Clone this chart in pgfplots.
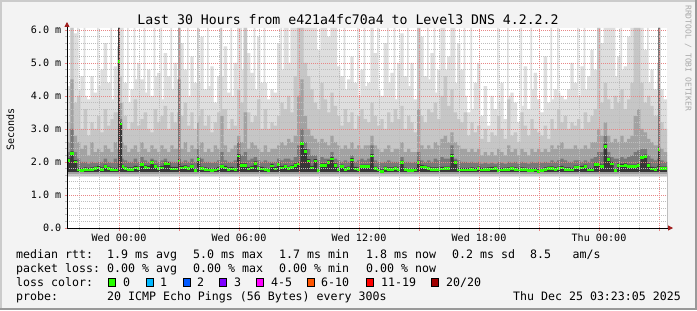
\documentclass[border=0pt]{standalone}
\usepackage{pgfplots}
\pgfplotsset{compat=1.18}
\usepackage{pgfplotstable}
\usepackage{fontspec}
\usetikzlibrary{arrows.meta}
\newfontfamily\rrd{DejaVu Sans Mono}
\newcommand{\legfont}{\rrd\fontsize{11.6bp}{14bp}\selectfont}
\newcommand{\tickfont}{\rrd\fontsize{10.1bp}{12bp}\selectfont}
\definecolor{bgc}{HTML}{F3F3F3}
\definecolor{shadea}{HTML}{CBCBCB}
\definecolor{shadeb}{HTML}{999999}
\definecolor{gridc}{HTML}{BDBDBD}
\definecolor{mgridc}{HTML}{E88686}
\definecolor{arrowc}{HTML}{A01E1E}
\definecolor{sL}{HTML}{DEDEDE}
\definecolor{sM}{HTML}{C6C6C6}
\definecolor{sD}{HTML}{A2A2A2}
\definecolor{sE}{HTML}{787878}
\definecolor{sK}{HTML}{383838}
\definecolor{l0}{HTML}{26FF00}
\definecolor{l1}{HTML}{00B8FF}
\definecolor{l2}{HTML}{0059FF}
\definecolor{l3}{HTML}{7E00FF}
\definecolor{l4}{HTML}{FF00FF}
\definecolor{l6}{HTML}{FF5500}
\definecolor{l11}{HTML}{FF0000}
\definecolor{l20}{HTML}{A00000}
\definecolor{wm}{HTML}{AAAAAA}

\pgfplotstableread{
t L M D1 D2 med
0 4.3 3.2 2.6 2.3 2.05
10 6.06 6.06 4.5 3.0 2.26
20 5.9 3.8 2.8 2.3 2.00
30 6.06 4.0 2.6 2.1 1.76
35 4.2 4.0 2.6 2.1 1.76
40 4.6 3.0 2.4 2.0 1.75
50 6.06 3.6 2.5 2.0 1.78
55 4.0 3.6 2.5 2.0 1.78
60 3.9 2.8 2.2 1.95 1.76
70 4.6 3.2 2.6 2.0 1.78
80 4.1 3.0 2.3 1.98 1.80
90 6.06 3.4 2.4 2.0 1.82
95 4.3 3.4 2.4 2.0 1.82
100 4.8 2.9 2.3 2.0 1.78
110 5.6 3.6 2.5 2.1 1.86
120 4.4 3.1 2.4 2.0 1.80
130 6.06 3.3 2.3 1.98 1.77
135 3.9 3.3 2.3 1.98 1.77
140 4.9 3.5 2.6 2.1 1.76
150 5.5 3.5 2.4 2.0 1.76
153 6.06 6.06 6.06 6.06 5.04
158 6.06 4.6 3.8 3.3 3.15
165 6.06 3.8 2.6 2.1 1.86
170 4.4 3.4 2.5 2.05 1.80
180 6.06 3.0 2.3 2.0 1.78
185 3.8 3.0 2.3 2.0 1.78
190 4.2 3.2 2.4 2.0 1.78
200 6.06 3.9 2.5 2.1 1.82
205 4.5 3.9 2.5 2.1 1.82
210 5.0 3.1 2.3 2.0 1.80
220 4.5 3.3 2.6 2.15 1.92
230 6.06 3.5 2.4 2.05 1.84
235 4.1 3.5 2.4 2.05 1.84
240 4.8 3.0 2.3 2.0 1.82
250 4.0 2.9 2.5 2.1 1.98
260 6.06 3.6 2.4 2.05 1.86
265 4.6 3.6 2.4 2.05 1.86
270 4.7 3.2 2.3 2.0 1.80
280 6.06 3.4 2.5 2.05 1.82
285 3.9 3.4 2.5 2.05 1.82
290 5.3 3.7 2.4 2.1 1.95
300 4.6 3.0 2.3 2.0 1.94
310 6.06 3.5 2.5 2.0 1.79
315 4.2 3.5 2.5 2.0 1.79
320 5.0 3.2 2.4 2.0 1.79
330 4.5 3.5 2.4 2.0 1.79
333 6.06 6.06 6.06 4.5 2.03
340 5.6 3.4 2.4 2.0 1.82
350 4.8 3.8 2.6 2.05 1.84
360 6.06 3.1 2.3 2.0 1.80
365 4.0 3.1 2.3 2.0 1.80
370 5.2 3.5 2.5 2.1 1.86
380 4.4 3.0 2.4 2.0 1.74
390 6.06 6.06 3.2 2.4 2.08
395 4.4 3.4 2.5 2.05 2.08
400 5.8 3.6 2.6 2.1 1.80
410 4.2 3.1 2.3 2.0 1.78
420 6.06 3.4 2.4 2.0 1.76
425 4.3 3.4 2.4 2.0 1.76
430 4.9 2.9 2.3 1.98 1.74
440 3.8 3.2 2.5 2.0 1.76
450 4.6 3.5 2.4 2.05 1.79
460 6.06 6.06 3.4 2.3 1.86
465 4.6 3.6 3.4 2.3 1.86
470 5.5 3.6 2.5 2.05 1.82
480 4.1 3.0 2.3 2.0 1.78
490 6.06 3.3 2.4 2.0 1.79
495 4.0 3.3 2.4 2.0 1.79
500 5.0 3.1 2.5 2.05 1.77
510 6.06 4.2 2.8 2.6 2.18
520 6.06 3.8 2.6 2.2 1.90
525 4.8 3.8 2.6 2.2 1.90
530 6.06 6.06 3.5 2.3 1.90
540 5.3 3.5 2.4 2.05 1.79
550 4.7 3.2 2.6 2.1 1.82
560 6.06 3.4 2.5 2.15 1.96
565 4.2 3.4 2.5 2.15 1.96
570 5.8 3.9 2.4 2.05 1.80
580 4.4 3.0 2.3 2.0 1.79
590 6.06 3.6 2.5 2.05 1.77
595 4.4 3.6 2.5 2.05 1.77
600 3.9 3.0 2.3 2.0 1.74
610 4.2 3.2 2.4 2.0 1.88
620 4.1 3.1 2.4 2.0 1.79
630 5.6 3.4 2.5 2.1 1.93
640 6.06 3.8 2.6 2.05 1.82
645 4.8 3.8 2.6 2.05 1.82
650 6.06 3.6 2.5 2.1 1.86
660 6.06 4.0 2.7 2.1 1.80
665 5.0 4.0 2.7 2.1 1.80
670 6.06 3.5 2.6 2.05 1.84
680 6.06 4.6 2.8 2.15 1.90
690 6.06 6.06 4.0 2.5 1.94
700 6.06 6.06 4.5 3.0 2.55
710 6.06 5.0 3.4 2.6 2.33
720 6.06 4.6 3.0 2.4 2.03
730 6.06 4.2 2.8 2.2 1.82
740 6.06 3.8 2.7 2.2 2.03
750 5.4 3.6 2.6 2.05 1.74
760 6.06 4.4 2.7 2.15 1.90
770 6.06 3.9 2.6 2.1 1.90
780 5.8 3.5 2.5 2.1 1.99
790 6.06 4.1 2.8 2.3 2.09
800 6.06 3.7 2.6 2.1 1.90
810 4.9 3.4 2.5 2.05 1.78
820 4.6 3.1 2.4 2.0 1.86
830 6.06 3.6 2.5 2.05 1.78
835 4.2 3.6 2.5 2.05 1.78
840 4.5 3.2 2.4 2.0 1.80
850 5.2 3.5 2.6 2.2 2.06
860 4.4 3.0 2.4 2.0 1.79
870 6.06 3.4 2.5 2.05 1.78
875 4.0 3.4 2.5 2.05 1.78
880 4.8 3.6 2.4 2.1 1.86
890 6.06 3.3 2.5 2.05 1.86
895 4.3 3.3 2.5 2.05 1.86
900 4.4 3.2 2.5 2.1 1.86
910 6.06 3.8 2.8 2.5 2.18
920 5.3 3.4 2.5 2.05 1.80
930 6.06 3.1 2.4 2.0 1.76
935 4.2 3.1 2.4 2.0 1.76
940 4.0 3.3 2.3 1.98 1.72
950 5.6 3.0 2.4 2.0 1.80
960 6.06 3.5 2.5 2.05 1.78
965 4.4 3.5 2.5 2.05 1.78
970 4.7 3.2 2.3 2.0 1.78
980 6.06 3.6 2.4 2.0 1.80
985 3.9 3.6 2.4 2.0 1.80
990 5.0 3.3 2.4 2.0 1.78
1000 5.9 3.7 2.6 2.15 1.98
1010 4.6 3.0 2.3 2.0 1.77
1020 6.06 3.4 2.4 2.0 1.74
1025 4.3 3.4 2.4 2.0 1.74
1030 5.0 3.2 2.3 1.98 1.74
1040 3.9 2.9 2.3 2.0 1.76
1050 6.06 6.06 3.6 2.3 1.98
1060 5.8 3.4 2.5 2.05 1.85
1070 4.6 3.2 2.4 2.0 1.83
1080 6.06 3.6 2.5 2.05 1.80
1085 4.5 3.6 2.5 2.05 1.80
1090 5.3 3.5 2.4 2.0 1.78
1100 6.06 3.8 2.6 2.1 1.78
1105 4.1 3.8 2.6 2.1 1.78
1110 4.8 3.3 2.5 2.05 1.78
1120 6.06 4.0 2.7 2.15 1.79
1130 6.06 4.6 2.8 2.1 1.80
1135 4.8 4.6 2.8 2.1 1.80
1140 5.2 3.7 2.6 2.1 1.80
1150 6.06 4.2 2.9 2.5 2.18
1160 6.06 3.5 2.6 2.1 1.98
1165 4.4 3.5 2.6 2.1 1.98
1170 5.6 3.3 2.5 2.05 1.76
1180 4.8 3.2 2.4 2.0 1.76
1190 6.06 3.5 2.4 2.0 1.76
1195 4.0 3.5 2.4 2.0 1.76
1200 3.5 2.8 2.3 1.98 1.76
1210 6.06 3.2 2.4 2.0 1.78
1215 3.6 3.2 2.4 2.0 1.78
1220 4.4 2.9 2.3 1.98 1.76
1230 5.0 3.1 2.4 2.0 1.80
1240 3.4 2.7 2.2 1.95 1.76
1250 4.3 3.0 2.3 1.98 1.77
1260 3.1 2.6 2.2 1.95 1.78
1270 4.0 2.9 2.3 1.98 1.79
1280 3.6 2.8 2.2 1.95 1.80
1290 6.06 3.4 2.4 2.0 1.75
1295 3.8 3.4 2.4 2.0 1.75
1300 4.4 3.0 2.3 1.98 1.76
1310 3.3 2.7 2.2 1.95 1.77
1320 6.06 3.9 2.5 2.0 1.78
1325 4.0 3.9 2.5 2.0 1.78
1330 4.1 2.8 2.3 1.98 1.80
1340 3.8 2.9 2.4 2.0 1.78
1350 3.2 2.6 2.2 1.95 1.76
1360 6.06 3.5 2.4 2.0 1.78
1365 3.7 3.5 2.4 2.0 1.78
1370 4.9 3.1 2.3 1.98 1.77
1380 3.6 2.8 2.2 1.95 1.74
1390 6.06 3.3 2.4 2.0 1.75
1395 4.2 3.3 2.4 2.0 1.75
1400 4.7 3.0 2.3 1.98 1.76
1410 3.9 2.9 2.4 2.0 1.72
1420 3.5 2.8 2.3 1.98 1.74
1430 5.2 3.1 2.4 2.0 1.78
1440 3.8 2.7 2.3 1.98 1.80
1450 6.06 3.3 2.5 2.05 1.81
1455 3.9 3.3 2.5 2.05 1.81
1460 4.2 3.0 2.4 2.0 1.78
1470 6.06 3.6 2.5 2.05 1.80
1475 4.1 3.6 2.5 2.05 1.80
1480 4.0 3.2 2.6 2.1 1.82
1490 3.9 3.4 2.4 2.05 1.78
1500 4.2 3.0 2.4 2.0 1.78
1510 5.0 3.2 2.4 2.0 1.76
1520 4.4 3.1 2.5 2.05 1.83
1530 6.06 3.3 2.4 2.05 1.83
1535 4.0 3.3 2.4 2.05 1.83
1540 4.9 3.0 2.4 2.0 1.82
1550 6.06 3.5 2.5 2.05 1.86
1555 4.2 3.5 2.5 2.05 1.86
1560 4.6 3.2 2.4 2.0 1.76
1570 5.4 3.4 2.6 2.1 1.76
1580 4.8 3.6 2.6 2.15 1.92
1590 6.06 6.06 3.0 2.3 1.92
1600 5.6 3.8 2.8 2.3 1.86
1610 6.06 4.4 3.2 2.8 2.48
1620 6.06 3.9 2.8 2.3 2.07
1630 6.06 3.6 2.6 2.15 1.94
1640 6.06 4.0 2.7 2.1 1.74
1645 4.6 4.0 2.7 2.1 1.74
1650 5.2 3.8 2.6 2.1 1.90
1660 6.06 4.2 2.8 2.15 1.88
1665 4.8 4.2 2.8 2.15 1.88
1670 4.9 3.6 2.6 2.1 1.90
1680 5.8 3.9 2.7 2.15 1.86
1690 6.06 4.4 2.8 2.2 1.86
1700 6.06 6.06 3.4 2.3 1.86
1710 6.06 6.06 3.6 2.35 1.90
1720 6.06 4.4 3.0 2.4 2.13
1730 5.4 3.8 2.9 2.4 2.16
1740 6.06 4.0 2.7 2.2 1.90
1745 4.4 4.0 2.7 2.2 1.90
1750 4.8 3.7 2.6 2.1 1.79
1760 4.2 3.4 2.5 2.05 1.78
1770 5.0 3.4 2.5 2.1 1.82
1773 6.06 6.06 6.06 6.06 2.38
1779 4.2 3.2 2.4 2.05 1.80
1790 3.9 3.0 2.3 2.0 1.80
1800 3.9 3.0 2.3 2.0 1.80
}\smoke

\begin{document}
\begin{tikzpicture}
\begin{scope}[x=1bp,y=1bp]
\path[use as bounding box] (0,0) rectangle (697,310);
\fill[shadea] (0,0) rectangle (697,310);
\fill[shadeb] (0,0) rectangle (697,2.5);
\fill[shadeb] (694.5,0) rectangle (697,310);
\fill[bgc] (2,2.5) rectangle (694.5,308);
\end{scope}
\begin{axis}[
  at={(67bp,82bp)}, anchor=south west,
  width=600bp, height=200bp, scale only axis,
  xmin=0, xmax=1800, ymin=0, ymax=6.06,
  axis background/.style={fill=white},
  every non boxed x axis/.style={},
  every non boxed y axis/.style={},
  axis lines=left,
  axis line style={black, line width=0.9bp, shorten >=-6bp, -{Triangle[length=5bp,width=5bp,color=arrowc]}},
  axis on top,
  xtick={156,336,516,696,876,1056,1236,1416,1596,1776},
  xticklabels={Wed 00:00,,Wed 06:00,,Wed 12:00,,Wed 18:00,,Thu 00:00,},
  minor xtick={36,96,216,276,396,456,576,636,756,816,936,996,1116,1176,1296,1356,1476,1536,1656,1716},
  ytick={0,1,2,3,4,5,6},
  yticklabels={0.0,1.0 m,2.0 m,3.0 m,4.0 m,5.0 m,6.0 m},
  minor ytick={0.2,0.4,0.6,0.8,1.2,1.4,1.6,1.8,2.2,2.4,2.6,2.8,3.2,3.4,3.6,3.8,4.2,4.4,4.6,4.8,5.2,5.4,5.6,5.8},
  grid=both,
  major grid style={mgridc, line width=0.6bp, dash pattern=on 1bp off 1bp},
  minor grid style={gridc, line width=0.6bp, dash pattern=on 1bp off 1bp},
  tick align=outside,
  major tick length=2.5bp, minor tick length=2bp,
  major tick style={mgridc, line width=0.8bp},
  minor tick style={gridc, line width=0.8bp},
  ticklabel style={font=\tickfont, inner sep=0pt},
  xticklabel style={anchor=north, yshift=-3bp},
  yticklabel style={anchor=east, xshift=-3bp},
]
\addplot[fill=sL, draw=none, const plot mark left] table[x=t,y=L]{\smoke} \closedcycle;
\addplot[fill=sM, draw=none, const plot mark left] table[x=t,y=M]{\smoke} \closedcycle;
\addplot[fill=sD, draw=none, const plot mark left] table[x=t,y=D1]{\smoke} \closedcycle;
\addplot[fill=sE, draw=none, const plot mark left] table[x=t,y=D2]{\smoke} \closedcycle;
\addplot[fill=sK, draw=none, const plot mark left] table[x=t,y expr=\thisrow{med}+0.06]{\smoke} \closedcycle;
\addplot[fill=sK, draw=none, const plot mark left] coordinates {(153,6.06) (158,6.06)} \closedcycle;
\addplot[fill=sD, draw=none] coordinates {(0,1.70) (1800,1.70)} \closedcycle;
\addplot[fill=sM, draw=none] coordinates {(0,1.64) (1800,1.64)} \closedcycle;
\addplot[fill=sL, draw=none] coordinates {(0,1.58) (1800,1.58)} \closedcycle;
\addplot[fill=white, draw=none] coordinates {(0,1.54) (1800,1.54)} \closedcycle;
\addplot[l0, line width=2.8bp, jump mark left] table[x=t,y=med]{\smoke};
\end{axis}
\begin{scope}[x=1bp,y=1bp]
\node[anchor=base, inner sep=0pt, font=\rrd\fontsize{13.2bp}{15bp}\selectfont] at (348,286) {Last 30 Hours from e421a4fc70a4 to Level3 DNS 4.2.2.2};
\node[anchor=base, rotate=90, inner sep=0pt, font=\tickfont] at (14,180.5) {Seconds};
\node[anchor=base west, rotate=-90, inner sep=0pt, text=wm, font=\rrd\fontsize{8bp}{9bp}\selectfont] at (685.5,305) {RRDTOOL / TOBI OETIKER};
\begin{scope}[every node/.style={anchor=base west, inner sep=0pt, font=\legfont}]
\node at (16,51.5) {median rtt:};
\node at (107,51.5) {1.9 ms avg};
\node at (193,51.5) {5.0 ms max};
\node at (279,51.5) {1.7 ms min};
\node at (366,51.5) {1.8 ms now};
\node at (452,51.5) {0.2 ms sd};
\node at (530,51.5) {8.5};
\node at (572.5,51.5) {am/s};
\node at (16,38) {packet loss:};
\node at (107,38) {0.00 \% avg};
\node at (193,38) {0.00 \% max};
\node at (279,38) {0.00 \% min};
\node at (366,38) {0.00 \% now};
\node at (16,24) {loss color:};
\node at (123,24) {0};
\node at (160,24) {1};
\node at (197,24) {2};
\node at (234,24) {3};
\node at (271,24) {4-5};
\node at (321,24) {6-10};
\node at (381,24) {11-19};
\node at (446,24) {20/20};
\node at (16,10) {probe:};
\node at (107,10) {20 ICMP Echo Pings (56 Bytes) every 300s};
\node at (513,10) {Thu Dec 25 03:23:05 2025};
\end{scope}
\foreach \xx/\cc in {108/l0,146/l1,183/l2,219/l3,256/l4,307/l6,366/l11,431/l20}{
  \draw[fill=\cc, draw=black, line width=0.8bp] (\xx,24) rectangle +(7.5,7.5);
}
\end{scope}
\end{tikzpicture}
\end{document}
